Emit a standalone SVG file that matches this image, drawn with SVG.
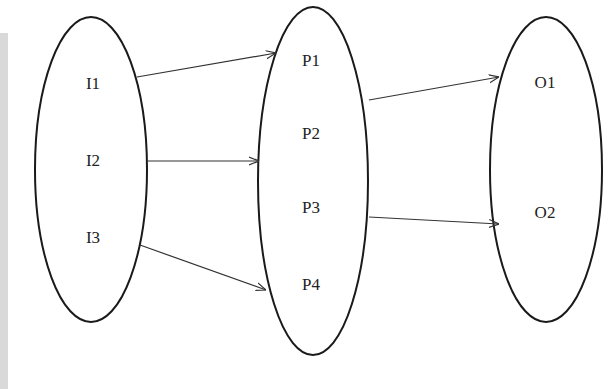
<svg xmlns="http://www.w3.org/2000/svg" width="610" height="389" viewBox="0 0 610 389">
<style>
.set{fill:none;stroke:#1a1a1a;stroke-width:2}
.lbl{font-family:"Liberation Serif",serif;font-size:17px;fill:#222;text-anchor:middle}
.arr{stroke:#333;stroke-width:1.2;fill:none;marker-end:url(#ah)}
</style>
<defs>
<marker id="ah" viewBox="0 0 10 10" refX="10" refY="5" markerWidth="10" markerHeight="10" markerUnits="userSpaceOnUse" orient="auto">
<path d="M0,1 L10,5 L0,9" fill="none" stroke="#333" stroke-width="1.2"/>
</marker>
</defs>
<rect width="610" height="389" fill="#fff"/>
<rect x="0" y="33" width="8" height="356" fill="#d9d9d9"/>
<g id="input">
<ellipse class="set" cx="91" cy="169.5" rx="56" ry="152.5"/>
<text class="lbl" x="93" y="89">I1</text>
<text class="lbl" x="93" y="166">I2</text>
<text class="lbl" x="93" y="243">I3</text>
</g>
<g id="process">
<ellipse class="set" cx="313" cy="181" rx="55" ry="174"/>
<text class="lbl" x="311" y="66">P1</text>
<text class="lbl" x="311" y="139">P2</text>
<text class="lbl" x="311" y="213">P3</text>
<text class="lbl" x="311" y="290">P4</text>
</g>
<g id="output">
<ellipse class="set" cx="546" cy="169.5" rx="56" ry="152.5"/>
<text class="lbl" x="545" y="88">O1</text>
<text class="lbl" x="545" y="218">O2</text>
</g>
<g id="connectors">
<line class="arr" x1="137" y1="77" x2="276" y2="53"/>
<line class="arr" x1="147" y1="161" x2="259" y2="161"/>
<line class="arr" x1="140" y1="245" x2="266" y2="290"/>
<line class="arr" x1="369" y1="100" x2="499" y2="77"/>
<line class="arr" x1="369" y1="217" x2="499" y2="224"/>
</g>
</svg>
